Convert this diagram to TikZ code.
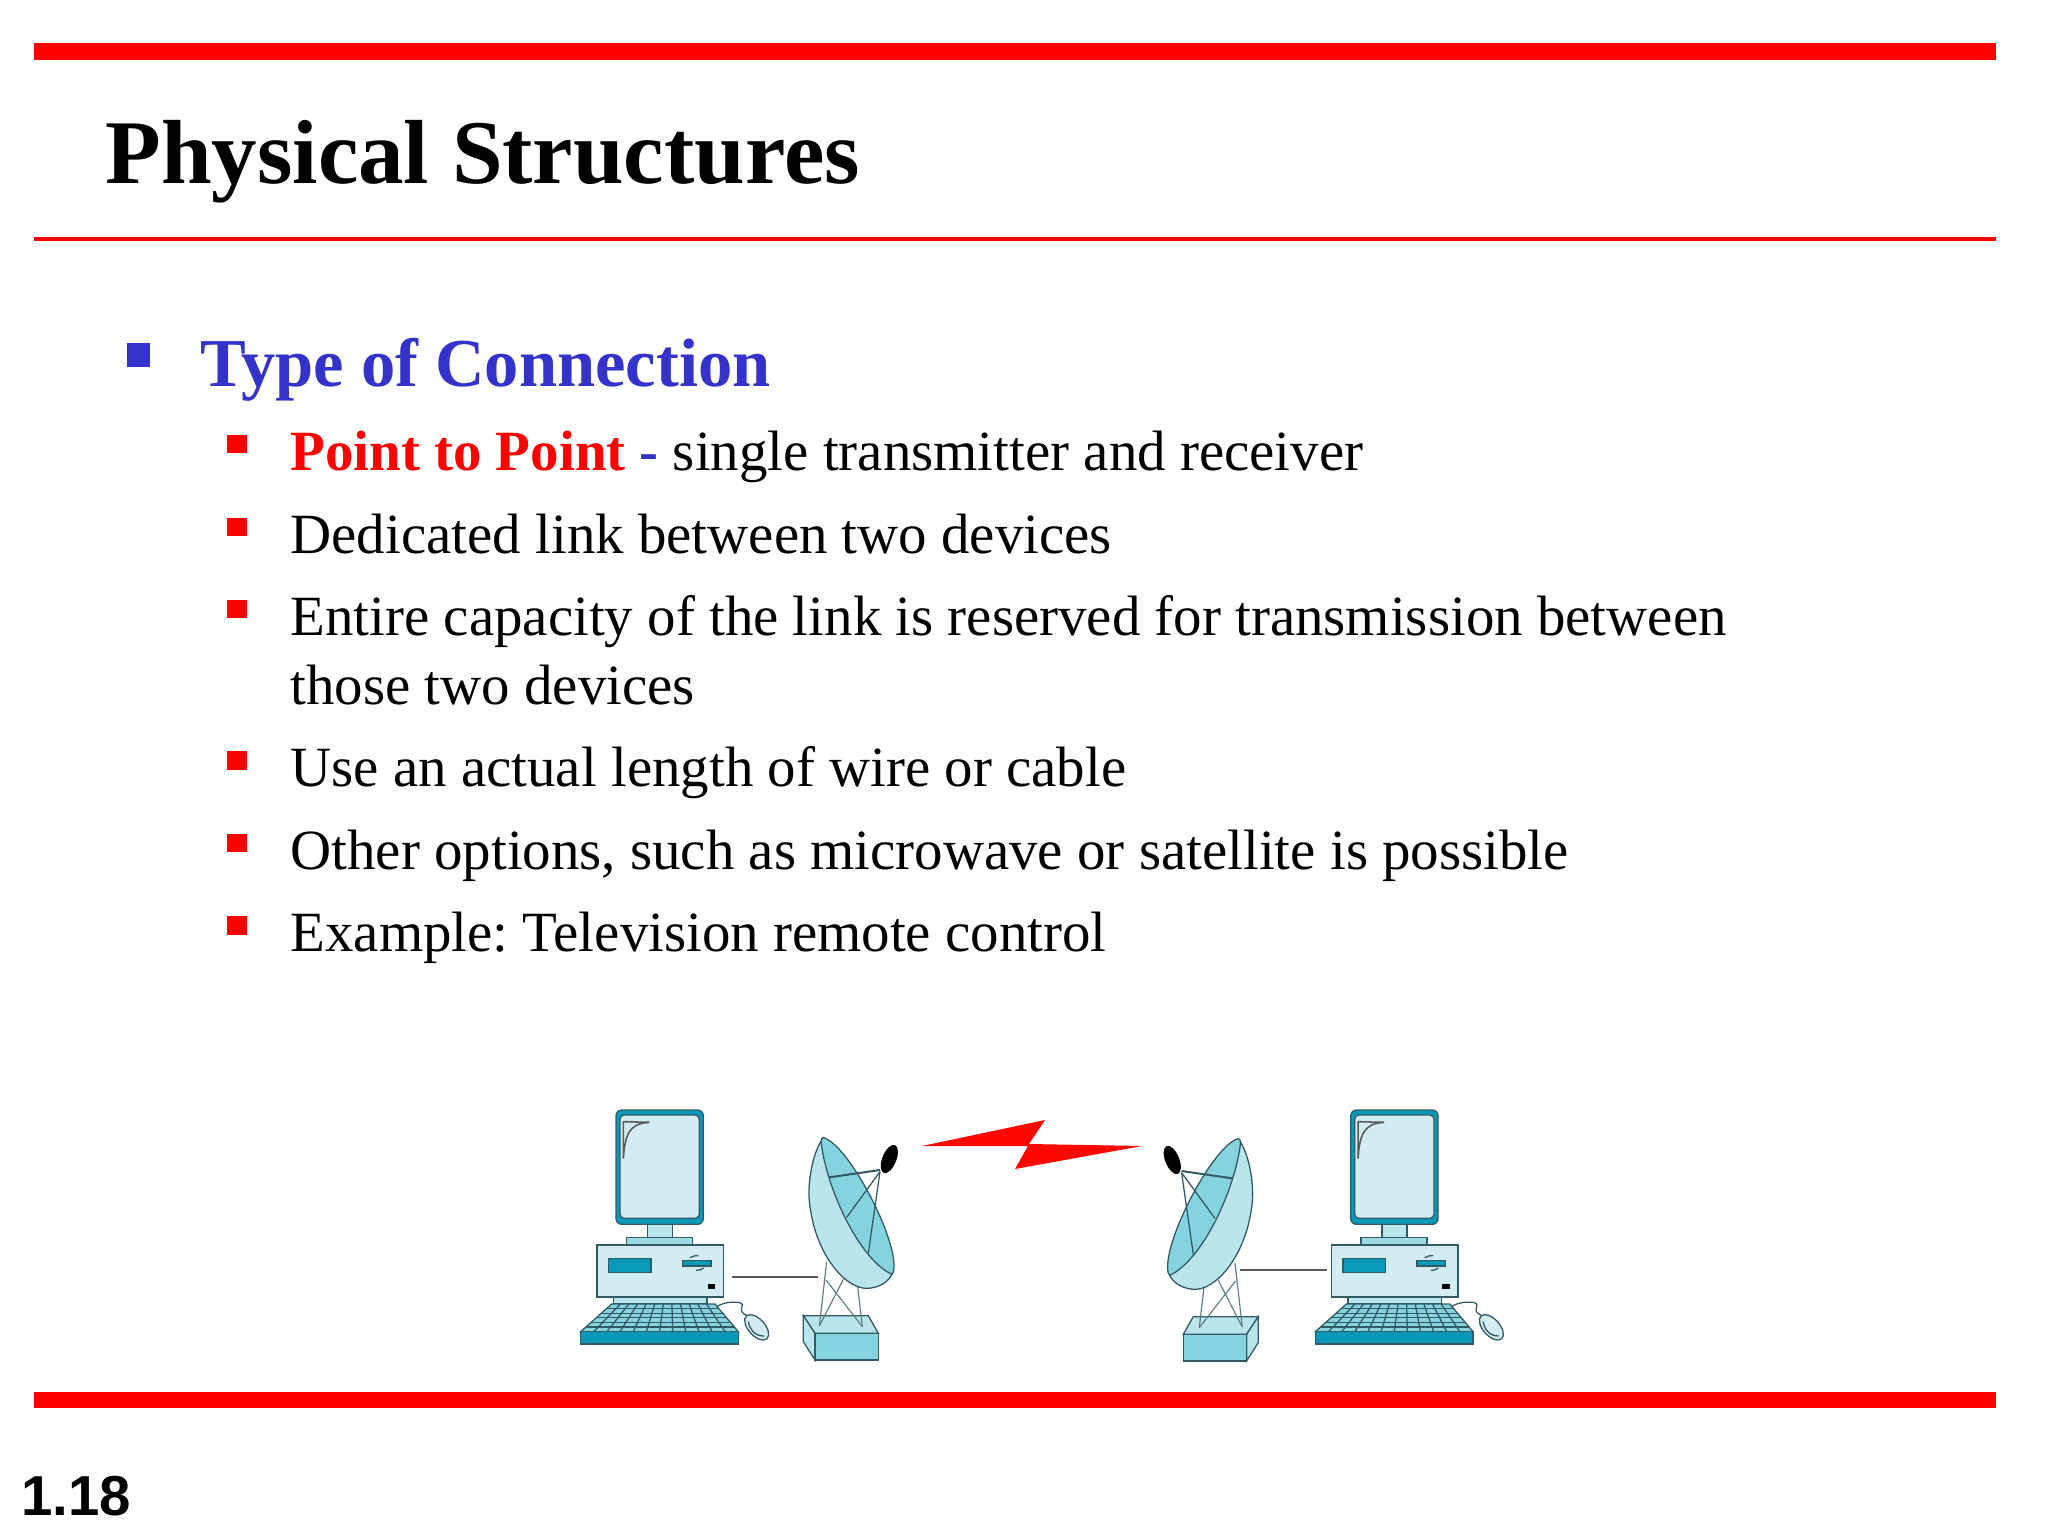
\documentclass[tikz,border=0pt]{standalone}
\usepackage{fontspec}
\setmainfont{Liberation Serif}
\newfontfamily\slidesans{Liberation Sans}
\usetikzlibrary{positioning}
\definecolor{slidered}{RGB}{255,0,0}
\definecolor{slideblue}{RGB}{51,51,204}
\definecolor{tealdark}{RGB}{10,152,184}
\definecolor{tealmid}{RGB}{133,211,223}
\definecolor{teallight}{RGB}{186,229,237}
\definecolor{tealpale}{RGB}{210,236,242}
\definecolor{tealline}{RGB}{50,90,100}
\tikzset{
  titletext/.style={anchor=base west,inner sep=0pt,font=\fontsize{32}{36}\selectfont\bfseries},
  headtext/.style={anchor=base west,inner sep=0pt,text=slideblue,font=\fontsize{24.1}{28}\selectfont\bfseries},
  itemtext/.style={anchor=base west,inner sep=0pt,font=\fontsize{20}{24}\selectfont},
  pagetext/.style={anchor=base west,inner sep=0pt,font=\slidesans\fontsize{19.8}{24}\selectfont\bfseries},
  bluebullet/.style={shape=rectangle,fill=slideblue,inner sep=0pt,minimum width=8.2pt,minimum height=8.6pt},
  redbullet/.style={shape=rectangle,fill=slidered,inner sep=0pt,minimum width=7pt,minimum height=6.4pt},
  part/.style={draw=tealline,line width=0.45pt},
  leg/.style={draw=tealline!80,line width=0.4pt},
  cable/.style={draw=black!65,line width=0.55pt},
  computer/.pic={
    % monitor
    \draw[part,fill=tealdark,rounded corners=2pt] (168,60) rectangle (430,403);
    \draw[part,fill=tealpale,rounded corners=1.5pt] (180,75) rectangle (418,385);
    \draw[cable] (190,205) -- (190,95) -- (268,97);
    \draw[cable] (190,205) .. controls (195,130) and (210,100) .. (268,97);
    \draw[part,fill=teallight] (262,403) rectangle (337,443);
    \draw[part,fill=tealmid!80] (199,443) rectangle (397,465);
    % case
    \draw[part,fill=tealpale] (111,465) rectangle (490,621);
    \draw[part,fill=tealdark] (145,506) rectangle (273,547);
    \draw[part,fill=tealdark] (367,512) rectangle (453,528);
    \draw[part] (390,503) .. controls (398,497) and (408,497) .. (415,497);
    \draw[part] (408,541) .. controls (418,541) and (426,539) .. (431,534);
    \fill[black] (443,583) rectangle (465,598);
    \draw[part,fill=teallight] (160,621) rectangle (441,642);
    % keyboard
    \draw[part,fill=tealmid] (155,642) -- (465,642) -- (535,725) -- (62,725) -- cycle;
    \foreach \row in {1,...,5}
      \draw[part] ({155-\row*93/6},{642+\row*83/6}) -- ({465+\row*70/6},{642+\row*83/6});
    \foreach \col in {1,...,11}
      \draw[part] ({155+\col*310/12},642) -- ({62+\col*473/12},725);
    \draw[part,fill=tealdark] (62,725) rectangle (535,762);
    % mouse
    \draw[part] (470,650) .. controls (495,635) and (520,635) .. (540,638)
      .. controls (555,642) and (540,655) .. (545,665) .. controls (548,672) and (555,672) .. (562,677);
    \draw[part,fill=tealpale,shift={(590,712)},rotate=-48] (0,0) ellipse [x radius=46,y radius=25];
    \draw[part] (565,695) .. controls (570,720) and (585,738) .. (612,738);
  },
  dish/.pic={
    % base block
    \draw[part,fill=teallight] (730,677) -- (925,677) -- (955,730) -- (765,730) -- cycle;
    \draw[part,fill=teallight] (730,677) -- (765,730) -- (765,810) -- (730,755) -- cycle;
    \draw[part,fill=tealmid] (765,730) rectangle (955,810);
    % legs
    \draw[leg] (800,515) -- (778,708);
    \draw[leg] (850,568) -- (778,708);
    \draw[leg] (798,570) -- (907,710);
    \draw[leg] (893,590) -- (907,710);
    % bowl
    \draw[part,fill=teallight] (790,143) .. controls (755,190) and (740,290) .. (750,350)
      .. controls (770,500) and (860,600) .. (925,595) .. controls (960,592) and (985,575) .. (996,553);
    \draw[part,fill=tealmid] (790,143) .. controls (860,160) and (1000,420) .. (1002,525)
      .. controls (1002,545) and (1000,550) .. (996,553) .. controls (900,510) and (800,300) .. (783,155)
      .. controls (783,148) and (786,143) .. cycle;
    \draw[part,line width=0.7pt] (808,262) -- (960,240);
    \draw[part] (860,382) -- (960,245);
    \draw[part] (925,490) -- (960,245);
    \fill[black,shift={(988,207)},rotate=-22] (0,0) ellipse [x radius=21,y radius=45];
  },
}
\begin{document}
\begin{tikzpicture}[x=0.3515625pt,y=-0.3515625pt]
  \useasboundingbox (0,0) rectangle (2048,1536);

  \fill[slidered] (34,43) rectangle (1996,60);
  \fill[slidered] (34,237) rectangle (1996,241);
  \fill[slidered] (34,1391.5) rectangle (1996,1407.5);

  \node[titletext] (title) at (105,184) {Physical Structures};
  \node[headtext] (head) at (200,387) {Type of Connection};
  \node[bluebullet] (bullethead) at ([xshift=-21.6pt,yshift=11.3pt]head.base west) {};

  \node[itemtext] (itema) at (290,470.6) {\textcolor{slidered}{\bfseries Point to Point} \textcolor{slideblue}{\bfseries -} single transmitter and receiver};
  \node[itemtext,below=29pt of itema.base west,anchor=base west] (itemb) {Dedicated link between two devices};
  \node[itemtext,below=29pt of itemb.base west,anchor=base west] (itemc) {Entire capacity of the link is reserved for transmission between};
  \node[itemtext,below=24.2pt of itemc.base west,anchor=base west] (itemcc) {those two devices};
  \node[itemtext,below=29pt of itemcc.base west,anchor=base west] (itemd) {Use an actual length of wire or cable};
  \node[itemtext,below=29pt of itemd.base west,anchor=base west] (iteme) {Other options, such as microwave or satellite is possible};
  \node[itemtext,below=29pt of iteme.base west,anchor=base west] (itemf) {Example:\ Television remote control};

  \foreach \item in {itema,itemb,itemc,itemd,iteme,itemf}
    \node[redbullet] (bullet\item) at ([xshift=-18.6pt,yshift=9.3pt]\item.base west) {};

  % left and right stations
  \pic[scale=0.33333] (compl) at (560,1090) {computer};
  \pic[scale=0.33333] (dishl) at (560,1090) {dish};
  \pic[xscale=-0.33333,yscale=0.33333] (dishr) at (1501.6,1091) {dish};
  \pic[scale=0.33333] (compr) at (1294.7,1090) {computer};

  \coordinate (cableaa) at (732,1277);
  \coordinate (cableab) at (818,1277);
  \coordinate (cableba) at (1240,1270);
  \coordinate (cablebb) at (1327,1270);
  \draw[cable] (cableaa) -- (cableab);
  \draw[cable] (cableba) -- (cablebb);

  % lightning bolt
  \fill[red!95!orange] (922,1146) -- (1045,1120) -- (1029,1144) -- (1142,1146) -- (1015,1169) -- (1028,1146) -- cycle;

  \node[pagetext] (pagenum) at (21,1515) {1.18};
\end{tikzpicture}
\end{document}
